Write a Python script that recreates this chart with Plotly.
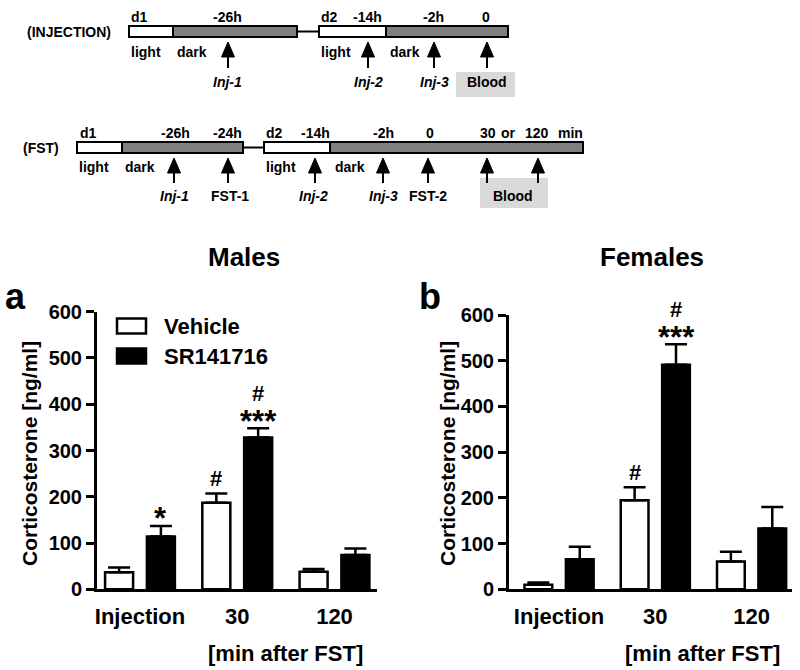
import plotly.graph_objects as go

# ---------------- data ----------------
categories = ["Injection", "30", "120"]
series_names = ["Vehicle", "SR141716"]

males_vehicle = [37, 187, 38]
males_vehicle_sem = [10, 20, 6]
males_sr = [114, 328, 74]
males_sr_sem = [23, 20, 14]

females_vehicle = [10, 195, 61]
females_vehicle_sem = [5, 28, 21]
females_sr = [66, 491, 133]
females_sr_sem = [27, 45, 47]

# significance marks per bar, listed bottom -> top
males_vehicle_sig = [[], ["#"], []]
males_sr_sig = [["*"], ["***", "#"], []]
females_vehicle_sig = [[], ["#"], []]
females_sr_sig = [[], ["***", "#"], []]

y_ticks = [0, 100, 200, 300, 400, 500, 600]

# ---------------- style ----------------
W, H = 800, 670
FONT = "Liberation Sans, Arial, Helvetica, sans-serif"
BARGAP = 0.14
BARGROUPGAP = 0.33
GREY = "#808080"
BOXGREY = "#d9d9d9"


def X(px):
    return px / W


def Y(py):
    return 1 - py / H


fig = go.Figure()
shapes = []
annotations = []


def text(t, x, y, size=14, anchor="center", italic=False, bold=True, angle=0):
    annotations.append(dict(
        text=t, x=X(x), y=Y(y), xref="paper", yref="paper",
        xanchor=anchor, yanchor="middle", showarrow=False, textangle=angle,
        font=dict(family=FONT, size=size, color="black",
                  weight="bold" if bold else "normal",
                  style="italic" if italic else "normal")))


# ---------------- bar panels ----------------
idx = list(range(len(categories)))
panels = [
    dict(title="Males", letter="a", xa="x", ya="y",
         veh=males_vehicle, veh_sem=males_vehicle_sem,
         sr=males_sr, sr_sem=males_sr_sem,
         veh_sig=males_vehicle_sig, sr_sig=males_sr_sig,
         xdom=(97, 377), ytop=311.7, xr=(-0.442, 2.437),
         title_x=244, letter_x=15, ytitle_x=29, xlab_x=285, legend=True),
    dict(title="Females", letter="b", xa="x2", ya="y2",
         veh=females_vehicle, veh_sem=females_vehicle_sem,
         sr=females_sr, sr_sem=females_sr_sem,
         veh_sig=females_vehicle_sig, sr_sig=females_sr_sig,
         xdom=(509, 792), ytop=315, xr=(-0.52, 2.42),
         title_x=652, letter_x=430, ytitle_x=447, xlab_x=702, legend=False),
]
YBOTTOM = 589.3

offset = (1 - BARGAP) / 4
layout_axes = {}
for p in panels:
    for name, vals, sem, fill, sigs, sgn in [
        (series_names[0], p["veh"], p["veh_sem"], "white", p["veh_sig"], -1),
        (series_names[1], p["sr"], p["sr_sem"], "black", p["sr_sig"], 1),
    ]:
        fig.add_trace(go.Bar(
            x=idx, y=vals, name=name, xaxis=p["xa"], yaxis=p["ya"],
            marker=dict(color=fill, line=dict(color="black", width=2.5)),
            error_y=dict(type="data", array=sem, arrayminus=[0] * len(sem),
                         symmetric=False, color="black", thickness=2.5, width=11),
            showlegend=False))
        for i, marks in enumerate(sigs):
            for row, m in enumerate(marks):
                if m.startswith("*"):
                    size, corr = 31, 9
                else:
                    size, corr = 22, 1
                annotations.append(dict(
                    text=m, x=i + sgn * offset, y=vals[i] + sem[i],
                    xref=p["xa"], yref=p["ya"], showarrow=False,
                    xanchor="center", yanchor="middle",
                    yshift=16 + row * 20 - corr,
                    font=dict(family=FONT, size=size, color="black", weight="bold")))

    sx = "" if p["xa"] == "x" else "2"
    layout_axes["xaxis" + sx] = dict(
        domain=[X(p["xdom"][0]), X(p["xdom"][1])], range=list(p["xr"]),
        anchor=p["ya"], showline=True, linewidth=3, linecolor="black",
        ticks="", tickvals=idx, ticktext=categories, showgrid=False, zeroline=False,
        tickfont=dict(family=FONT, size=22, color="black", weight="bold"),
        ticklabelstandoff=5, fixedrange=True, automargin=False)
    layout_axes["yaxis" + sx] = dict(
        domain=[Y(YBOTTOM), Y(p["ytop"])], range=[0, 600], anchor=p["xa"],
        showline=True, linewidth=3, linecolor="black", ticks="outside",
        ticklen=8, tickwidth=3, tickcolor="black", tickvals=y_ticks,
        showgrid=False, zeroline=False,
        tickfont=dict(family=FONT, size=20, color="black", weight="bold"),
        fixedrange=True, automargin=False)

    text(p["title"], p["title_x"], 257, size=26)
    text(p["letter"], p["letter_x"], 296, size=36)
    text("Corticosterone [ng/ml]", p["ytitle_x"], 454, size=21, angle=-90)
    text("[min after FST]", p["xlab_x"], 653, size=22)

    if p["legend"]:
        for k, (nm, fill) in enumerate(zip(series_names, ["white", "black"])):
            yc = 326 + 30 * k
            shapes.append(dict(type="rect", xref="paper", yref="paper",
                               x0=X(117), x1=X(146), y0=Y(yc - 7.5), y1=Y(yc + 7.5),
                               fillcolor=fill, line=dict(color="black", width=2.5)))
            text(nm, 162, yc, size=22, anchor="left")

# ---------------- schematic timelines ----------------
rows = [
    dict(label="(INJECTION)", label_x=69, y0=26, y1=37,
         segs=[(129, 173, "white"), (173, 297, GREY), (319, 386, "white"), (386, 508, GREY)],
         link=(297, 319),
         top=[("d1", 129, "left"), ("-26h", 228, "center"), ("d2", 319, "left"),
              ("-14h", 367, "center"), ("-2h", 433, "center"), ("0", 486, "center")],
         top_y=17,
         under=[("light", 129), ("dark", 175), ("light", 319), ("dark", 388)], under_y=52,
         arrows=[228, 368, 434, 487], head=(42, 57), stem=68,
         events=[("Inj-1", 228, True), ("Inj-2", 368, True), ("Inj-3", 435, True),
                 ("Blood", 487, False)], ev_y=82,
         box=(456, 515, 72, 97)),
    dict(label="(FST)", label_x=41, y0=142, y1=153,
         segs=[(77, 122, "white"), (122, 243, GREY), (264, 330, "white"), (330, 583, GREY)],
         link=(243, 264),
         top=[("d1", 78, "left"), ("-26h", 175, "center"), ("-24h", 227, "center"),
              ("d2", 264, "left"), ("-14h", 315, "center"), ("-2h", 383, "center"),
              ("0", 430, "center"), ("30", 488, "center"), ("or", 508, "center"),
              ("120", 537, "center"), ("min", 570, "center")],
         top_y=133,
         under=[("light", 77), ("dark", 123), ("light", 264), ("dark", 333)], under_y=167,
         arrows=[174, 228, 315, 383, 428, 487, 538], head=(158, 173), stem=183,
         events=[("Inj-1", 174, True), ("FST-1", 230, False), ("Inj-2", 313, True),
                 ("Inj-3", 383, True), ("FST-2", 428, False), ("Blood", 513, False)],
         ev_y=196,
         box=(480, 548, 178, 208)),
]

for r in rows:
    bx0, bx1, by0, by1 = r["box"]
    shapes.append(dict(type="rect", xref="paper", yref="paper", layer="below",
                       x0=X(bx0), x1=X(bx1), y0=Y(by1), y1=Y(by0),
                       fillcolor=BOXGREY, line=dict(width=0)))
    ym = (r["y0"] + r["y1"]) / 2
    shapes.append(dict(type="line", xref="paper", yref="paper",
                       x0=X(r["link"][0]), x1=X(r["link"][1]), y0=Y(ym), y1=Y(ym),
                       line=dict(color="black", width=2)))
    for (a, b, c) in r["segs"]:
        shapes.append(dict(type="rect", xref="paper", yref="paper",
                           x0=X(a), x1=X(b), y0=Y(r["y1"]), y1=Y(r["y0"]),
                           fillcolor=c, line=dict(color="black", width=2)))
    text(r["label"], r["label_x"], ym, size=14)
    for t, x, anc in r["top"]:
        text(t, x, r["top_y"], size=14, anchor=anc)
    for t, x in r["under"]:
        text(t, x, r["under_y"], size=14, anchor="left")
    h0, h1 = r["head"]
    for x in r["arrows"]:
        shapes.append(dict(type="path", xref="paper", yref="paper",
                           path=f"M {X(x)},{Y(h0)} L {X(x - 6.5)},{Y(h1)} L {X(x + 6.5)},{Y(h1)} Z",
                           fillcolor="black", line=dict(color="black", width=1)))
        shapes.append(dict(type="line", xref="paper", yref="paper",
                           x0=X(x), x1=X(x), y0=Y(h1), y1=Y(r["stem"]),
                           line=dict(color="black", width=2)))
    for t, x, it in r["events"]:
        text(t, x, r["ev_y"], size=14, italic=it)

fig.update_layout(
    width=W, height=H, margin=dict(l=0, r=0, t=0, b=0, autoexpand=False),
    paper_bgcolor="white", plot_bgcolor="rgba(0,0,0,0)",
    barmode="group", bargap=BARGAP, bargroupgap=BARGROUPGAP,
    showlegend=False, shapes=shapes, annotations=annotations,
    font=dict(family=FONT, color="black"),
    **layout_axes,
)

# remove the browser's default 8px page margin so the figure sits at (0, 0)
fig.write_html("out.html", config={"displayModeBar": False},
               post_script="document.body.style.margin='0';document.body.style.overflow='hidden';")
